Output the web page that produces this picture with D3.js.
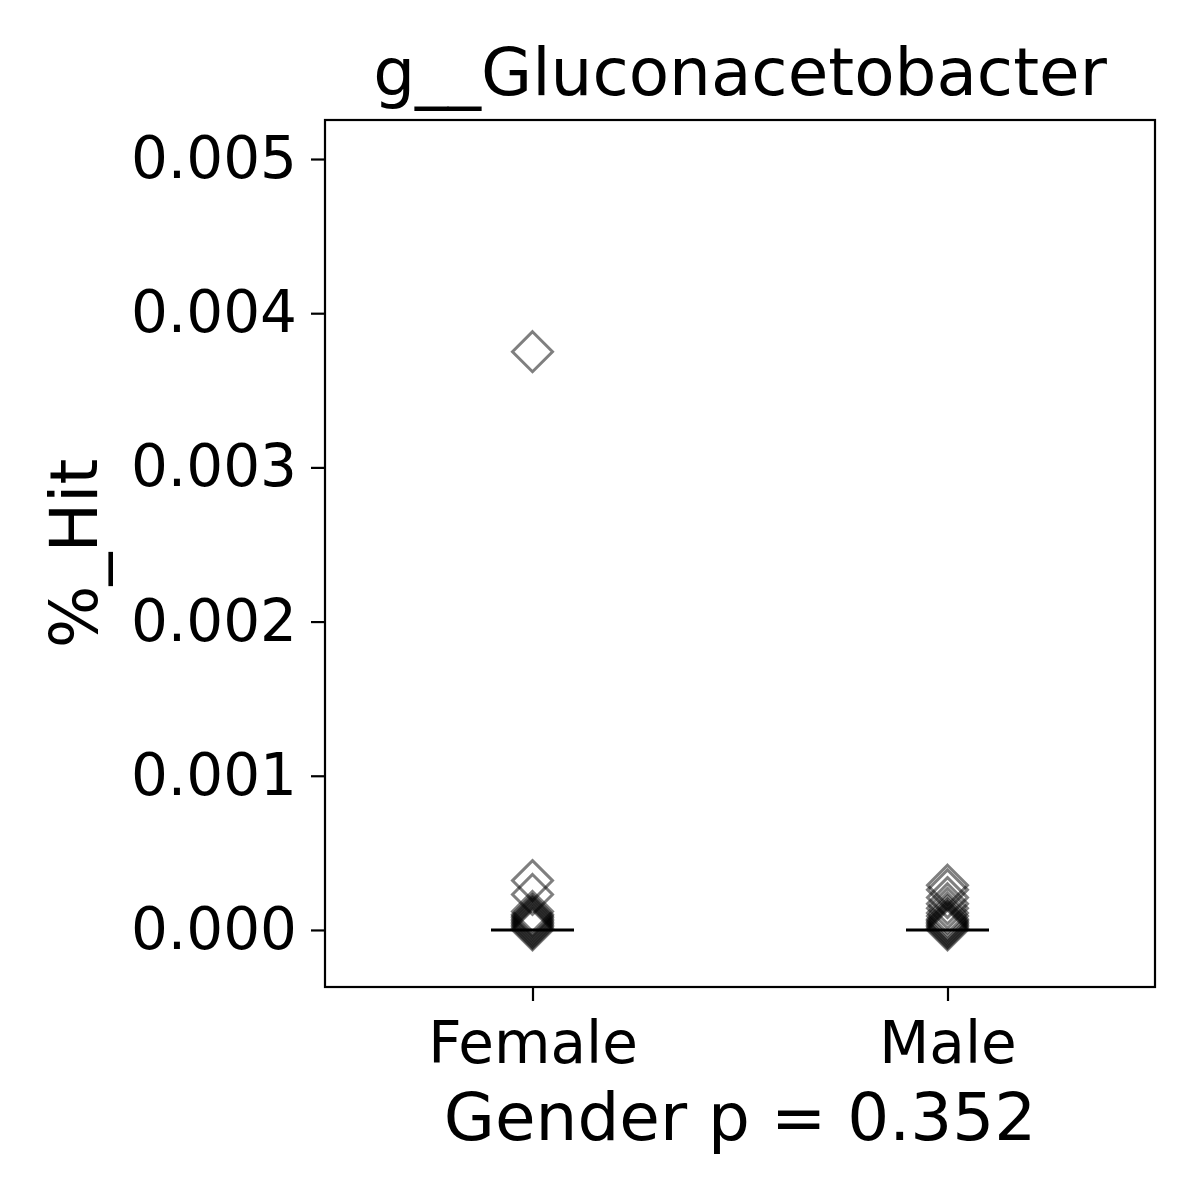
<!DOCTYPE html>
<html><head><meta charset="utf-8">
<script src="https://cdn.jsdelivr.net/npm/d3@7"></script>
<style>body{margin:0;background:#fff}svg{display:block}text{font-family:"DejaVu Sans",sans-serif}</style>
</head><body>
<script>
const categories = ["Female", "Male"];
const femaleValues = [0.00375, 0.00032, 0.00023, 0.00012, 0.0001, 0.00009, 0.00008, 0.00007, 0.00006, 0.00005, 0.00004, 0.00003, 0.00002, 0.00001, 0];
const maleValues = [0.00029, 0.00026, 0.00021, 0.00017, 0.00014, 0.00011, 0.00009, 0.00007, 0.00006, 0.00005, 0.00004, 0.00003, 0.00002, 0.00001, 0];
const medians = [0, 0];
const yTicks = [0, 0.001, 0.002, 0.003, 0.004, 0.005];
const title = "g__Gluconacetobacter";
const xLabel = "Gender p = 0.352";
const yLabel = "%_Hit";

const W = 1200, H = 1200;
const m = {left: 325, right: 1155, top: 120, bottom: 987};
const svg = d3.select("body").append("svg").attr("width", W).attr("height", H);

const x = d3.scaleLinear().domain([-0.5, 1.5]).range([m.left, m.right]);
const y = d3.scaleLinear().domain([-0.00037, 0.005253]).range([m.bottom, m.top]);

const series = [femaleValues, maleValues];

series.forEach((vals, i) => {
  svg.append("g").selectAll("path").data(vals).join("path")
    .attr("d", "M0,-20L20,0L0,20L-20,0Z")
    .attr("transform", d => `translate(${x(i)},${y(d)})`)
    .attr("fill", "none")
    .attr("stroke", "rgba(0,0,0,0.5)")
    .attr("stroke-width", 3);
});

svg.append("g").selectAll("line").data(medians).join("line")
  .attr("x1", (d, i) => x(i - 0.1)).attr("x2", (d, i) => x(i + 0.1))
  .attr("y1", d => y(d)).attr("y2", d => y(d))
  .attr("stroke", "#000").attr("stroke-width", 3);

svg.append("rect").attr("x", m.left).attr("y", m.top)
  .attr("width", m.right - m.left).attr("height", m.bottom - m.top)
  .attr("fill", "none").attr("stroke", "#000").attr("stroke-width", 2.2);

const yAxis = svg.append("g").attr("transform", `translate(${m.left},0)`)
  .call(d3.axisLeft(y).tickValues(yTicks).tickFormat(d3.format(".3f")).tickSize(14).tickPadding(14));
yAxis.select(".domain").remove();
yAxis.selectAll("line").attr("stroke-width", 2.2);
yAxis.selectAll("text").attr("font-size", 58).attr("fill", "#000").attr("font-family", "DejaVu Sans");

const xAxis = svg.append("g").attr("transform", `translate(0,${m.bottom})`)
  .call(d3.axisBottom(x).tickValues([0, 1]).tickFormat((d, i) => categories[i]).tickSize(14).tickPadding(21));
xAxis.select(".domain").remove();
xAxis.selectAll("line").attr("stroke-width", 2.2);
xAxis.selectAll("text").attr("font-size", 58).attr("fill", "#000").attr("font-family", "DejaVu Sans");

svg.append("text").attr("x", (m.left + m.right) / 2).attr("y", 95)
  .attr("text-anchor", "middle").attr("font-size", 66).text(title);
svg.append("text").attr("x", (m.left + m.right) / 2).attr("y", 1140)
  .attr("text-anchor", "middle").attr("font-size", 66).text(xLabel);
svg.append("text").attr("transform", `translate(97,${(m.top + m.bottom) / 2}) rotate(-90)`)
  .attr("text-anchor", "middle").attr("font-size", 66).text(yLabel);
</script>
</body></html>
